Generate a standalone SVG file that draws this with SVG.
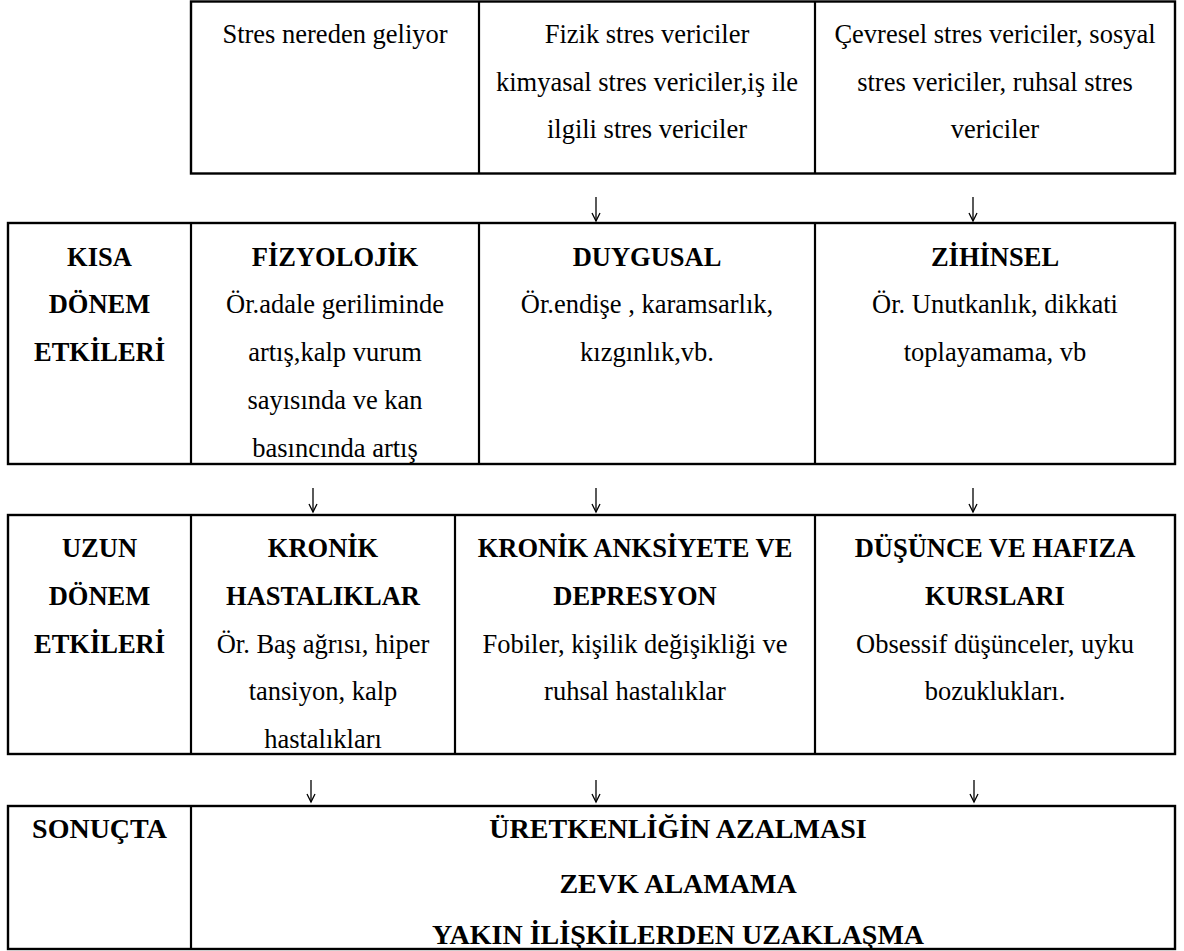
<svg xmlns="http://www.w3.org/2000/svg" width="1184" height="951" viewBox="0 0 1184 951" font-family="'Liberation Serif', Tinos, 'Times New Roman', Times, 'DejaVu Serif', serif">
  <style>
    .cell { fill: #ffffff; stroke: #000000; stroke-width: 2.4; }
    .div { stroke: #000000; stroke-width: 2.2; fill: none; }
    text { font-size: 26.5px; fill: #000000; text-anchor: middle; }
    .b { font-weight: bold; }
    .big { font-size: 28px; }
    .arrow { stroke: #000000; stroke-width: 1.3; fill: none; marker-end: url(#head); }
  </style>
  <defs>
    <marker id="head" markerUnits="userSpaceOnUse" markerWidth="12" markerHeight="12" viewBox="-10 -6 12 12" refX="0" refY="0" orient="auto">
      <path d="M-8,-4 L0,0 L-8,4" fill="none" stroke="#000000" stroke-width="1.3"/>
    </marker>
  </defs>
  <rect width="1184" height="951" fill="#ffffff"/>

  <!-- Sources of stress -->
  <g id="sources">
    <rect class="cell" x="191" y="1.5" width="984" height="172"/>
    <line class="div" x1="479" y1="1.5" x2="479" y2="173.5"/>
    <line class="div" x1="815" y1="1.5" x2="815" y2="173.5"/>
    <text x="335" y="43">Stres nereden geliyor</text>
    <text x="647" y="43">Fizik stres vericiler</text>
    <text x="647" y="91">kimyasal stres vericiler,iş ile</text>
    <text x="647" y="138">ilgili stres vericiler</text>
    <text x="995" y="43">Çevresel stres vericiler, sosyal</text>
    <text x="995" y="91">stres vericiler, ruhsal stres</text>
    <text x="995" y="138">vericiler</text>
  </g>

  <!-- Short-term effects -->
  <g id="short-term">
    <rect class="cell" x="8" y="223" width="1167" height="241"/>
    <line class="div" x1="191" y1="223" x2="191" y2="464"/>
    <line class="div" x1="479" y1="223" x2="479" y2="464"/>
    <line class="div" x1="815" y1="223" x2="815" y2="464"/>
    <text class="b" x="99.5" y="266">KISA</text>
    <text class="b" x="99.5" y="313">DÖNEM</text>
    <text class="b" x="99.5" y="361">ETKİLERİ</text>
    <text class="b" x="335" y="266">FİZYOLOJİK</text>
    <text x="335" y="313">Ör.adale geriliminde</text>
    <text x="335" y="361">artış,kalp vurum</text>
    <text x="335" y="409">sayısında ve kan</text>
    <text x="335" y="457">basıncında artış</text>
    <text class="b" x="647" y="266">DUYGUSAL</text>
    <text x="647" y="313">Ör.endişe , karamsarlık,</text>
    <text x="647" y="361">kızgınlık,vb.</text>
    <text class="b" x="995" y="266">ZİHİNSEL</text>
    <text x="995" y="313">Ör. Unutkanlık, dikkati</text>
    <text x="995" y="361">toplayamama, vb</text>
  </g>

  <!-- Long-term effects -->
  <g id="long-term">
    <rect class="cell" x="8" y="515" width="1167" height="239"/>
    <line class="div" x1="191" y1="515" x2="191" y2="754"/>
    <line class="div" x1="455" y1="515" x2="455" y2="754"/>
    <line class="div" x1="815" y1="515" x2="815" y2="754"/>
    <text class="b" x="99.5" y="557">UZUN</text>
    <text class="b" x="99.5" y="605">DÖNEM</text>
    <text class="b" x="99.5" y="653">ETKİLERİ</text>
    <text class="b" x="323" y="557">KRONİK</text>
    <text class="b" x="323" y="605">HASTALIKLAR</text>
    <text x="323" y="653">Ör. Baş ağrısı, hiper</text>
    <text x="323" y="700">tansiyon, kalp</text>
    <text x="323" y="748">hastalıkları</text>
    <text class="b" x="635" y="557">KRONİK ANKSİYETE VE</text>
    <text class="b" x="635" y="605">DEPRESYON</text>
    <text x="635" y="653">Fobiler, kişilik değişikliği ve</text>
    <text x="635" y="700">ruhsal hastalıklar</text>
    <text class="b" x="995" y="557">DÜŞÜNCE VE HAFIZA</text>
    <text class="b" x="995" y="605">KURSLARI</text>
    <text x="995" y="653">Obsessif düşünceler, uyku</text>
    <text x="995" y="700">bozuklukları.</text>
  </g>

  <!-- Outcome -->
  <g id="outcome">
    <rect class="cell" x="8" y="806" width="1167" height="143"/>
    <line class="div" x1="191" y1="806" x2="191" y2="949"/>
    <text class="b big" x="99.5" y="838">SONUÇTA</text>
    <text class="b big" x="678" y="838">ÜRETKENLİĞİN AZALMASI</text>
    <text class="b big" x="678" y="893">ZEVK ALAMAMA</text>
    <text class="b big" x="678" y="944">YAKIN İLİŞKİLERDEN UZAKLAŞMA</text>
  </g>

  <!-- Downward arrows between the rows -->
  <g id="connectors">
    <path class="arrow" d="M596,197 V221"/>
    <path class="arrow" d="M973,197 V221"/>
    <path class="arrow" d="M313,488 V512"/>
    <path class="arrow" d="M596,488 V512"/>
    <path class="arrow" d="M973,488 V512"/>
    <path class="arrow" d="M311,780 V802"/>
    <path class="arrow" d="M596,780 V802"/>
    <path class="arrow" d="M974,780 V802"/>
  </g>
</svg>
